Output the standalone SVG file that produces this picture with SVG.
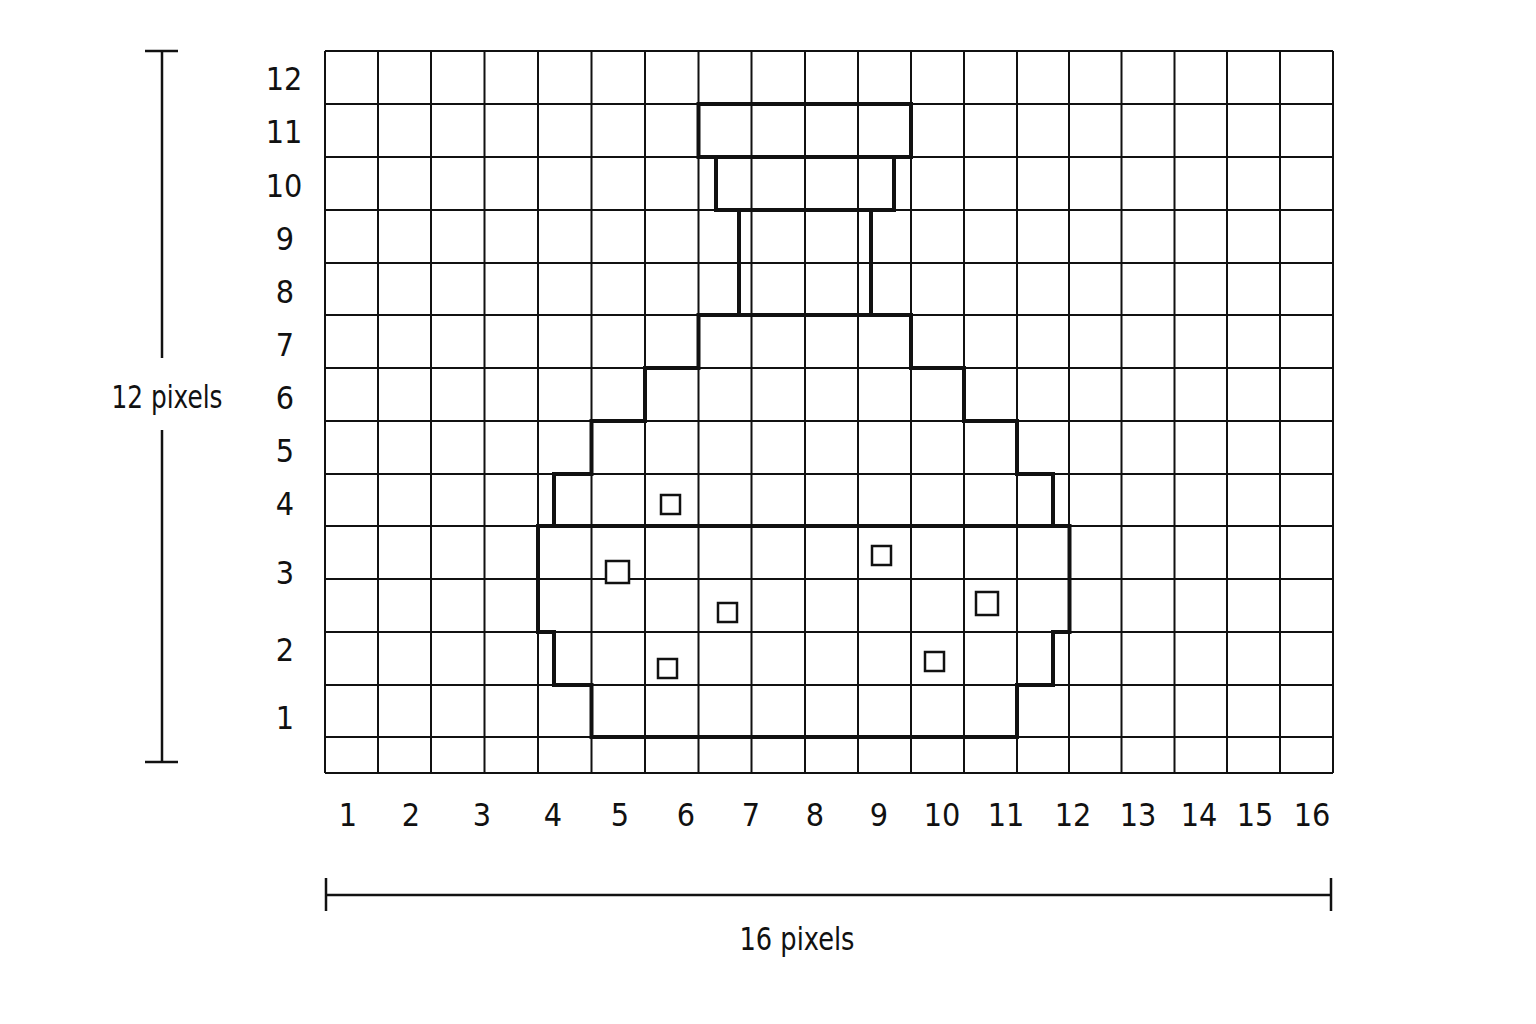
<svg xmlns="http://www.w3.org/2000/svg" width="1536" height="1024" viewBox="0 0 1536 1024">
<style>
.grid{stroke:#111;stroke-width:2;fill:none}
.thick{stroke:#111;stroke-width:4;fill:none;stroke-linejoin:miter}
.sq{stroke:#111;stroke-width:2.5;fill:#fff}
.dim{stroke:#111;stroke-width:2.5;fill:none}
text{font-family:"DejaVu Sans Condensed","Liberation Sans Narrow","Liberation Sans",sans-serif;font-size:32px;fill:#111;text-anchor:middle}
</style>
<rect width="1536" height="1024" fill="#fff"/>
<g id="grid" class="grid">
<path d="M325 51V773M378 51V773M431 51V773M484.5 51V773M538 51V773M591.5 51V773M645 51V773M698.5 51V773M751.5 51V773M805 51V773M858 51V773M911 51V773M964 51V773M1017 51V773M1069 51V773M1121.5 51V773M1174.5 51V773M1227 51V773M1280 51V773M1333 51V773"/>
<path d="M325 51H1333M325 104H1333M325 157H1333M325 210H1333M325 263H1333M325 315H1333M325 368H1333M325 421H1333M325 474H1333M325 526H1333M325 579H1333M325 632H1333M325 685H1333M325 737H1333M325 773H1333"/>
</g>
<g id="bottle" class="thick">
<rect x="698.5" y="104" width="212.5" height="53"/>
<rect x="716" y="157" width="178" height="53"/>
<rect x="739" y="210" width="132" height="105"/>
<path d="M698.5 315H911V368H964V421H1017V474H1053V526H1069.5V632H1053V685H1017V737H591.5V685H554V632H538V526H554V474H591.5V421H645V368H698.5Z"/>
<path d="M538 526H1069.5"/>
</g>
<g id="squares" class="sq">
<rect x="661" y="495" width="19" height="19"/>
<rect x="606" y="561" width="23" height="22"/>
<rect x="872" y="546" width="19" height="19"/>
<rect x="718" y="603" width="19" height="19"/>
<rect x="976" y="592" width="22" height="23"/>
<rect x="658" y="659" width="19" height="19"/>
<rect x="925" y="652" width="19" height="19"/>
</g>
<g id="row-labels">
<text x="284" y="90">12</text>
<text x="284" y="143">11</text>
<text x="284" y="197">10</text>
<text x="285" y="250">9</text>
<text x="285" y="303">8</text>
<text x="285" y="356">7</text>
<text x="285" y="409">6</text>
<text x="285" y="462">5</text>
<text x="285" y="515">4</text>
<text x="285" y="584">3</text>
<text x="285" y="661">2</text>
<text x="285" y="729">1</text>
</g>
<g id="col-labels">
<text x="348" y="826">1</text>
<text x="411" y="826">2</text>
<text x="482" y="826">3</text>
<text x="553" y="826">4</text>
<text x="620" y="826">5</text>
<text x="686" y="826">6</text>
<text x="751" y="826">7</text>
<text x="815" y="826">8</text>
<text x="879" y="826">9</text>
<text x="942" y="826">10</text>
<text x="1006" y="826">11</text>
<text x="1073" y="826">12</text>
<text x="1138" y="826">13</text>
<text x="1199" y="826">14</text>
<text x="1255" y="826">15</text>
<text x="1312" y="826">16</text>
</g>
<g id="dimensions" class="dim">
<path d="M162 51V358M162 430V762M145 51H178M145 762H178"/>
<path d="M326 895H1331M326 878V911M1331 878V911"/>
</g>
<g id="dim-labels">
<text x="167" y="408" textLength="111" lengthAdjust="spacingAndGlyphs">12 pixels</text>
<text x="797" y="950" textLength="115" lengthAdjust="spacingAndGlyphs">16 pixels</text>
</g>
</svg>
